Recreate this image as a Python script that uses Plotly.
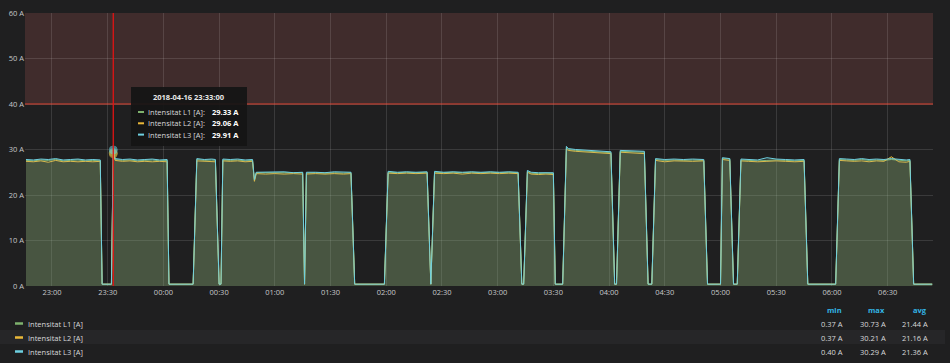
import plotly.graph_objects as go

# ---------------- data ----------------
times = ["22:46", "22:50", "22:54", "22:58", "23:02", "23:06", "23:10", "23:14", "23:18", "23:22", "23:26",
         "23:27", "23:32", "23:33", "23:34", "23:38", "23:42", "23:46", "23:50", "23:54", "23:58", "00:02",
         "00:03", "00:16", "00:18", "00:22", "00:26", "00:28", "00:30", "00:31", "00:32", "00:36", "00:40",
         "00:44", "00:48", "00:49", "00:50", "00:55", "01:00", "01:05", "01:10", "01:15", "01:16", "01:17",
         "01:22", "01:27", "01:32", "01:37", "01:41", "01:43", "01:59", "02:01", "02:06", "02:11", "02:16",
         "02:22", "02:24", "02:26", "02:31", "02:36", "02:41", "02:46", "02:51", "02:56", "03:01", "03:06",
         "03:11", "03:13", "03:14", "03:16", "03:18", "03:22", "03:26", "03:30", "03:31", "03:35", "03:37",
         "03:38", "03:42", "03:46", "03:50", "03:55", "04:01", "04:03", "04:04", "04:06", "04:10", "04:14",
         "04:19", "04:21", "04:23", "04:25", "04:30", "04:35", "04:40", "04:45", "04:51", "04:53", "05:00",
         "05:01", "05:05", "05:07", "05:09", "05:11", "05:15", "05:20", "05:25", "05:30", "05:35", "05:40",
         "05:45", "05:47", "06:02", "06:04", "06:08", "06:12", "06:16", "06:20", "06:24", "06:28", "06:32",
         "06:36", "06:40", "06:42", "06:44", "06:54"]

l1 = [27.6, 27.5, 27.7, 27.6, 27.8, 27.5, 27.6, 27.7, 27.5, 27.6, 27.5,
      0.4, 0.4, 29.33, 27.8, 27.6, 27.7, 27.5, 27.6, 27.7, 27.5, 27.6,
      0.4, 0.4, 27.8, 27.6, 27.7, 27.6, 0.4, 0.4, 27.7, 27.6, 27.7,
      27.5, 27.6, 23.2, 24.9, 24.9, 24.8, 24.9, 24.8, 24.9, 0.4, 24.8,
      24.9, 24.8, 24.9, 24.8, 24.9, 0.4, 0.4, 25.0, 24.9, 25.0, 24.9,
      25.0, 0.4, 25.0, 24.9, 25.0, 24.9, 25.0, 24.9, 25.0, 24.9, 25.0,
      24.9, 0.4, 0.4, 25.2, 24.8, 24.7, 24.8, 24.7, 0.4, 0.4, 30.4,
      30.0, 29.8, 29.7, 29.5, 29.4, 29.3, 0.4, 0.4, 29.6, 29.5, 29.4,
      29.4, 0.4, 0.4, 27.8, 27.6, 27.7, 27.6, 27.7, 27.6, 0.4, 0.4,
      28.0, 27.9, 0.4, 0.4, 27.7, 27.6, 27.5, 27.6, 27.7, 27.6, 27.5,
      27.6, 0.4, 0.4, 27.8, 27.7, 27.6, 27.8, 27.6, 27.7, 27.6, 27.8,
      27.6, 27.5, 27.6, 0.4, 0.4]

l2 = [27.4, 27.3, 27.5, 27.2, 27.6, 27.3, 27.4, 27.3, 27.4, 27.3, 27.4,
      0.4, 0.4, 29.06, 27.6, 27.4, 27.5, 27.3, 27.4, 27.3, 27.4, 27.3,
      0.4, 0.4, 27.5, 27.4, 27.4, 27.3, 0.4, 0.4, 27.5, 27.4, 27.5,
      27.3, 27.4, 23.0, 24.7, 24.6, 24.7, 24.6, 24.7, 24.6, 0.4, 24.6,
      24.7, 24.6, 24.7, 24.6, 24.7, 0.4, 0.4, 24.8, 24.7, 24.8, 24.7,
      24.8, 0.4, 24.8, 24.7, 24.8, 24.6, 24.8, 24.7, 24.8, 24.7, 24.8,
      24.7, 0.4, 0.4, 25.0, 24.6, 24.5, 24.6, 24.5, 0.4, 0.4, 30.1,
      29.8, 29.6, 29.5, 29.3, 29.2, 29.1, 0.4, 0.4, 29.4, 29.3, 29.2,
      29.1, 0.4, 0.4, 27.6, 27.3, 27.5, 27.4, 27.4, 27.5, 0.4, 0.4,
      27.8, 27.6, 0.4, 0.4, 27.5, 27.4, 27.3, 27.4, 27.5, 27.4, 27.3,
      27.4, 0.4, 0.4, 27.6, 27.5, 27.4, 27.5, 27.3, 27.5, 27.4, 28.4,
      27.3, 27.2, 27.4, 0.4, 0.4]

l3 = [27.8, 27.7, 27.9, 27.8, 28.0, 27.7, 27.8, 27.9, 27.7, 27.8, 27.7,
      0.4, 0.4, 29.91, 28.0, 27.8, 27.9, 27.7, 27.8, 27.9, 27.7, 27.8,
      0.4, 0.4, 28.0, 27.8, 27.9, 27.8, 0.4, 0.4, 27.9, 27.8, 27.9,
      27.7, 27.8, 23.4, 25.0, 25.0, 25.0, 25.1, 24.9, 25.0, 0.4, 25.0,
      25.0, 24.9, 25.1, 25.0, 25.0, 0.4, 0.4, 25.2, 25.0, 25.1, 25.0,
      25.1, 0.4, 25.2, 25.0, 25.1, 25.0, 25.1, 25.0, 25.1, 25.0, 25.1,
      25.0, 0.4, 0.4, 25.4, 25.0, 24.9, 24.9, 24.9, 0.4, 0.4, 30.7,
      30.2, 30.0, 29.9, 29.7, 29.6, 29.5, 0.4, 0.4, 29.8, 29.7, 29.6,
      29.6, 0.4, 0.4, 28.0, 27.8, 27.9, 27.8, 27.9, 27.8, 0.4, 0.4,
      28.2, 28.0, 0.4, 0.4, 27.9, 27.8, 27.7, 28.2, 27.9, 27.8, 27.7,
      27.8, 0.4, 0.4, 28.0, 27.9, 27.8, 28.0, 27.8, 27.9, 27.8, 28.0,
      27.8, 27.7, 27.8, 0.4, 0.4]

series_names = ["Intensitat L1 [A]", "Intensitat L2 [A]", "Intensitat L3 [A]"]
series_colors = ["#7EB26D", "#EAB839", "#6ED0E0"]
stat_min = ["0.37 A", "0.37 A", "0.40 A"]
stat_max = ["30.73 A", "30.21 A", "30.29 A"]
stat_avg = ["21.44 A", "21.16 A", "21.36 A"]

hover_time = "23:33"
hover_title = "2018-04-16 23:33:00"
hover_values = ["29.33 A", "29.06 A", "29.91 A"]
threshold = 40
y_ticks = [0, 10, 20, 30, 40, 50, 60]


def to_dt(hm):
    day = "2018-04-16" if int(hm[:2]) >= 12 else "2018-04-17"
    return f"{day} {hm}:00"


xs = [to_dt(t) for t in times]

# ---------------- geometry helpers ----------------
W, H = 950, 363
PL, PR, PT, PB = 25, 933, 13, 286


def px(x):
    return (x - PL) / (PR - PL)


def py(y):
    return (PB - y) / (PB - PT)


BG = "#1f1f20"
TXT = "#c7c8ca"
FONT = "Open Sans"
FS = 7.5

fig = go.Figure()

for vals, name, col in zip([l1, l2, l3], series_names, series_colors):
    r, g, b = int(col[1:3], 16), int(col[3:5], 16), int(col[5:7], 16)
    fig.add_trace(go.Scatter(
        x=xs, y=vals, name=name, mode="lines",
        line=dict(color=col, width=1),
        fill="tozeroy", fillcolor=f"rgba({r},{g},{b},0.13)",
        hoverinfo="skip", showlegend=False))

# hover point markers
hover_idx = times.index(hover_time)
for vals, col in zip([l1, l2, l3], series_colors):
    fig.add_trace(go.Scatter(
        x=[xs[hover_idx]], y=[vals[hover_idx]], mode="markers",
        marker=dict(size=8, color=col, opacity=0.55, line=dict(color=col, width=1)),
        hoverinfo="skip", showlegend=False))

shapes = []
# threshold region and line
shapes.append(dict(type="rect", xref="paper", yref="y", x0=0, x1=1, y0=threshold, y1=60,
                   fillcolor="rgba(234,112,112,0.16)", line=dict(width=0), layer="below"))
shapes.append(dict(type="line", xref="paper", yref="y", x0=0, x1=1, y0=threshold, y1=threshold,
                   line=dict(color="rgba(237,70,50,0.9)", width=1)))
# crosshair
shapes.append(dict(type="line", xref="x", yref="paper", x0=xs[hover_idx], x1=xs[hover_idx], y0=0, y1=1,
                   line=dict(color="rgb(225,20,20)", width=1.3)))

annotations = []

# tooltip box
shapes.append(dict(type="rect", xref="paper", yref="paper", x0=px(131), x1=px(247), y0=py(146), y1=py(87),
                   fillcolor="rgba(20,20,20,0.93)", line=dict(width=0), layer="above"))
annotations.append(dict(xref="paper", yref="paper", x=px(189), y=py(97), text=f"<b>{hover_title}</b>",
                        showarrow=False, xanchor="center", yanchor="middle",
                        font=dict(family=FONT, size=FS, color="#e8e8e8")))
for i, (name, col, val) in enumerate(zip(series_names, series_colors, hover_values)):
    yy = 112 + i * 11.3
    shapes.append(dict(type="line", xref="paper", yref="paper", x0=px(138), x1=px(144), y0=py(yy), y1=py(yy),
                       line=dict(color=col, width=2), layer="above"))
    annotations.append(dict(xref="paper", yref="paper", x=px(146), y=py(yy), text=name + ":",
                            showarrow=False, xanchor="left", yanchor="middle",
                            font=dict(family=FONT, size=FS, color="#d8d9da")))
    annotations.append(dict(xref="paper", yref="paper", x=px(241), y=py(yy), text=f"<b>{val}</b>",
                            showarrow=False, xanchor="right", yanchor="middle",
                            font=dict(family=FONT, size=FS, color="#ffffff")))

# legend table
shapes.append(dict(type="rect", xref="paper", yref="paper", x0=px(0), x1=px(945), y0=py(344), y1=py(330),
                   fillcolor="#262628", line=dict(width=0), layer="below"))
header_x = [844, 887, 929]
for lbl, hx in zip(["min", "max", "avg"], header_x):
    annotations.append(dict(xref="paper", yref="paper", x=px(hx), y=py(310), text=f"<b>{lbl}</b>",
                            showarrow=False, xanchor="right", yanchor="middle",
                            font=dict(family=FONT, size=FS, color="#33b5e5")))
for i, (name, col) in enumerate(zip(series_names, series_colors)):
    yy = 323.5 + i * 14
    shapes.append(dict(type="line", xref="paper", yref="paper", x0=px(15), x1=px(23), y0=py(yy), y1=py(yy),
                       line=dict(color=col, width=2.5)))
    annotations.append(dict(xref="paper", yref="paper", x=px(26), y=py(yy), text=name,
                            showarrow=False, xanchor="left", yanchor="middle",
                            font=dict(family=FONT, size=FS, color="#d8d9da")))
    for v, hx in zip([stat_min[i], stat_max[i], stat_avg[i]], header_x):
        annotations.append(dict(xref="paper", yref="paper", x=px(hx + 1), y=py(yy), text=v,
                                showarrow=False, xanchor="right", yanchor="middle",
                                font=dict(family=FONT, size=FS, color="#d8d9da")))

fig.update_layout(
    width=W, height=H,
    margin=dict(l=PL, r=W - PR, t=PT, b=H - PB, autoexpand=False),
    paper_bgcolor=BG, plot_bgcolor=BG,
    font=dict(family=FONT, size=FS, color=TXT),
    shapes=shapes, annotations=annotations,
    showlegend=False,
    xaxis=dict(type="date", range=["2018-04-16 22:45:28", "2018-04-17 06:54:25"],
               tick0="2018-04-16 23:00:00", dtick=30 * 60 * 1000, tickformat="%H:%M",
               showgrid=True, gridcolor="rgba(255,255,255,0.12)", gridwidth=1,
               zeroline=False, showline=False, ticks="", automargin=False,
               tickfont=dict(family=FONT, size=FS, color=TXT)),
    yaxis=dict(range=[0, 60], tickvals=y_ticks, ticktext=[f"{v} A" for v in y_ticks],
               showgrid=True, gridcolor="rgba(255,255,255,0.12)", gridwidth=1,
               zeroline=False, showline=False, ticks="", automargin=False,
               tickfont=dict(family=FONT, size=FS, color=TXT)),
)

fig.write_html("out.html")
